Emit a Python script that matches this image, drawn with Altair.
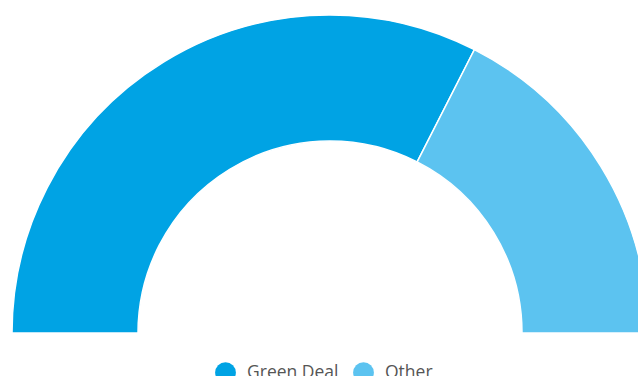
import altair as alt
import pandas as pd

# Share of funding by category (percent)
categories = ["Green Deal", "Other"]
shares = [65, 35]
colors = ["#00a3e4", "#5cc3f0"]

df = pd.DataFrame({"category": categories, "share": shares, "order": [0, 1]})

chart = (
    alt.Chart(df)
    .mark_arc(innerRadius=192, outerRadius=318, stroke="white", strokeWidth=1.5)
    .encode(
        theta=alt.Theta("share:Q", stack=True,
                        scale=alt.Scale(range=[-1.5707963, 1.5707963])),
        color=alt.Color(
            "category:N",
            scale=alt.Scale(domain=categories, range=colors),
            legend=alt.Legend(
                title=None,
                orient="none",
                legendX=215,
                legendY=362,
                direction="horizontal",
                symbolType="circle",
                symbolSize=430,
                symbolStrokeWidth=0,
                labelFont="Open Sans",
                labelFontSize=17.5,
                labelColor="#555555",
                labelOffset=11,
                columnPadding=14,
            ),
        ),
        order=alt.Order("order:Q"),
        x=alt.value(330),
        y=alt.value(333),
    )
    .properties(width=638, height=376, padding=0, autosize=alt.AutoSizeParams(type="none"))
    .configure_view(stroke=None)
)

chart.save("out.html", embed_options={"renderer": "svg", "actions": False})
